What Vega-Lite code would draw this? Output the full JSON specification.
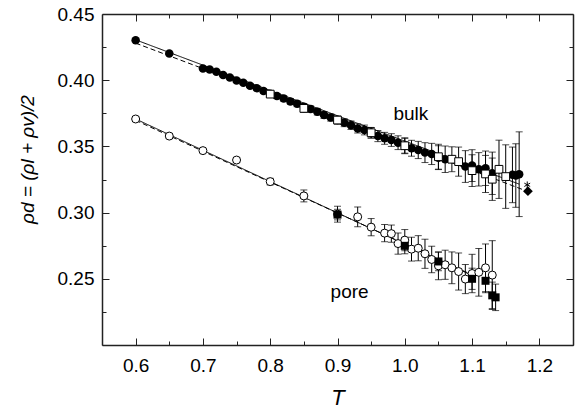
{
  "$schema": "https://vega.github.io/schema/vega-lite/v6.json",
  "width": 471,
  "height": 331,
  "autosize": "none",
  "padding": {"left": 102, "top": 14, "right": 14, "bottom": 69},
  "background": "white",
  "config": {
    "font": "Liberation Sans",
    "view": {"stroke": null},
    "axis": {"grid": false, "domainColor": "#222", "domainWidth": 1.5, "tickColor": "#222", "tickWidth": 1, "labelColor": "black", "titleColor": "black", "labelFont": "Liberation Sans", "titleFont": "Liberation Sans"}
  },
  "datasets": {
    "bulkC": [
      {"T": 0.60, "rho": 0.4302, "err": 0.0006},
      {"T": 0.65, "rho": 0.4202, "err": 0.0006},
      {"T": 0.70, "rho": 0.4089, "err": 0.0008},
      {"T": 0.71, "rho": 0.4081, "err": 0.0008},
      {"T": 0.72, "rho": 0.4063, "err": 0.0008},
      {"T": 0.73, "rho": 0.4040, "err": 0.0009},
      {"T": 0.74, "rho": 0.4021, "err": 0.0009},
      {"T": 0.75, "rho": 0.3998, "err": 0.0010},
      {"T": 0.76, "rho": 0.3980, "err": 0.0012},
      {"T": 0.77, "rho": 0.3958, "err": 0.0013},
      {"T": 0.78, "rho": 0.3940, "err": 0.0015},
      {"T": 0.79, "rho": 0.3918, "err": 0.0016},
      {"T": 0.80, "rho": 0.3898, "err": 0.0018},
      {"T": 0.81, "rho": 0.3880, "err": 0.0019},
      {"T": 0.82, "rho": 0.3862, "err": 0.0020},
      {"T": 0.83, "rho": 0.3840, "err": 0.0021},
      {"T": 0.84, "rho": 0.3822, "err": 0.0022},
      {"T": 0.85, "rho": 0.3800, "err": 0.0023},
      {"T": 0.86, "rho": 0.3782, "err": 0.0024},
      {"T": 0.87, "rho": 0.3762, "err": 0.0025},
      {"T": 0.88, "rho": 0.3737, "err": 0.0026},
      {"T": 0.89, "rho": 0.3718, "err": 0.0027},
      {"T": 0.90, "rho": 0.3699, "err": 0.0028},
      {"T": 0.91, "rho": 0.3679, "err": 0.0030},
      {"T": 0.92, "rho": 0.3660, "err": 0.0032},
      {"T": 0.93, "rho": 0.3636, "err": 0.0035},
      {"T": 0.94, "rho": 0.3624, "err": 0.0037},
      {"T": 0.95, "rho": 0.3603, "err": 0.0040},
      {"T": 0.96, "rho": 0.3578, "err": 0.0042},
      {"T": 0.97, "rho": 0.3561, "err": 0.0045},
      {"T": 0.98, "rho": 0.3548, "err": 0.0048},
      {"T": 0.99, "rho": 0.3528, "err": 0.0052},
      {"T": 1.00, "rho": 0.3505, "err": 0.0056},
      {"T": 1.01, "rho": 0.3486, "err": 0.0060},
      {"T": 1.02, "rho": 0.3473, "err": 0.0065},
      {"T": 1.03, "rho": 0.3453, "err": 0.0075},
      {"T": 1.04, "rho": 0.3443, "err": 0.0080},
      {"T": 1.05, "rho": 0.3415, "err": 0.0090},
      {"T": 1.06, "rho": 0.3403, "err": 0.0100},
      {"T": 1.09, "rho": 0.3348, "err": 0.0120},
      {"T": 1.10, "rho": 0.3355, "err": 0.0120},
      {"T": 1.11, "rho": 0.3327, "err": 0.0126},
      {"T": 1.12, "rho": 0.3335, "err": 0.0130},
      {"T": 1.13, "rho": 0.3297, "err": 0.0160},
      {"T": 1.16, "rho": 0.3285, "err": 0.0210},
      {"T": 1.165, "rho": 0.3280, "err": 0.0240},
      {"T": 1.17, "rho": 0.3290, "err": 0.0320}
    ],
    "bulkS": [
      {"T": 0.80, "rho": 0.3895, "err": 0.0020},
      {"T": 0.85, "rho": 0.3787, "err": 0.0030},
      {"T": 0.90, "rho": 0.3699, "err": 0.0030},
      {"T": 0.95, "rho": 0.3603, "err": 0.0040},
      {"T": 1.00, "rho": 0.3505, "err": 0.0060},
      {"T": 1.05, "rho": 0.3422, "err": 0.0094},
      {"T": 1.07, "rho": 0.3403, "err": 0.0094},
      {"T": 1.08, "rho": 0.3385, "err": 0.0110},
      {"T": 1.10, "rho": 0.3317, "err": 0.0120},
      {"T": 1.12, "rho": 0.3292, "err": 0.0140},
      {"T": 1.13, "rho": 0.3252, "err": 0.0160},
      {"T": 1.14, "rho": 0.3327, "err": 0.0220},
      {"T": 1.15, "rho": 0.3272, "err": 0.0240}
    ],
    "bulkX": [
      {"T": 1.182, "rho": 0.3210, "kind": "star"},
      {"T": 1.183, "rho": 0.3162, "kind": "diamond"}
    ],
    "poreC": [
      {"T": 0.60, "rho": 0.3707, "err": 0.0010},
      {"T": 0.65, "rho": 0.3578, "err": 0.0010},
      {"T": 0.70, "rho": 0.3468, "err": 0.0012},
      {"T": 0.75, "rho": 0.3397, "err": 0.0018},
      {"T": 0.80, "rho": 0.3234, "err": 0.0025},
      {"T": 0.85, "rho": 0.3126, "err": 0.0045},
      {"T": 0.90, "rho": 0.2988, "err": 0.0060},
      {"T": 0.93, "rho": 0.2968, "err": 0.0075},
      {"T": 0.95, "rho": 0.2890, "err": 0.0065},
      {"T": 0.97, "rho": 0.2845, "err": 0.0065},
      {"T": 0.98, "rho": 0.2841, "err": 0.0065},
      {"T": 0.99, "rho": 0.2766, "err": 0.0080},
      {"T": 1.00, "rho": 0.2792, "err": 0.0080},
      {"T": 1.01, "rho": 0.2724, "err": 0.0090},
      {"T": 1.02, "rho": 0.2731, "err": 0.0095},
      {"T": 1.03, "rho": 0.2689, "err": 0.0110},
      {"T": 1.04, "rho": 0.2646, "err": 0.0100},
      {"T": 1.05, "rho": 0.2598, "err": 0.0105},
      {"T": 1.06, "rho": 0.2606, "err": 0.0110},
      {"T": 1.07, "rho": 0.2583, "err": 0.0120},
      {"T": 1.08, "rho": 0.2555, "err": 0.0140},
      {"T": 1.09, "rho": 0.2498, "err": 0.0110},
      {"T": 1.10, "rho": 0.2540, "err": 0.0145},
      {"T": 1.11, "rho": 0.2549, "err": 0.0180},
      {"T": 1.12, "rho": 0.2583, "err": 0.0180},
      {"T": 1.13, "rho": 0.2528, "err": 0.0260}
    ],
    "poreS": [
      {"T": 0.90, "rho": 0.2985, "err": 0.0040},
      {"T": 1.00, "rho": 0.2749, "err": 0.0060},
      {"T": 1.05, "rho": 0.2631, "err": 0.0070},
      {"T": 1.10, "rho": 0.2500, "err": 0.0080},
      {"T": 1.12, "rho": 0.2485, "err": 0.0090},
      {"T": 1.13, "rho": 0.2375, "err": 0.0100},
      {"T": 1.135, "rho": 0.2360, "err": 0.0100}
    ],
    "fits": [
      {"fit": "bulk solid", "style": "solid", "T": 0.60, "rho": 0.4305},
      {"fit": "bulk solid", "style": "solid", "T": 1.17, "rho": 0.3215},
      {"fit": "bulk dashed", "style": "dashed", "T": 0.60, "rho": 0.4280},
      {"fit": "bulk dashed", "style": "dashed", "T": 1.18, "rho": 0.3165},
      {"fit": "pore solid", "style": "solid", "T": 0.60, "rho": 0.3707},
      {"fit": "pore solid", "style": "solid", "T": 1.10, "rho": 0.2525},
      {"fit": "pore dashed", "style": "dashed", "T": 0.60, "rho": 0.3697},
      {"fit": "pore dashed", "style": "dashed", "T": 1.10, "rho": 0.2530}
    ],
    "notes": [
      {"T": 1.009, "rho": 0.3744, "text": "bulk"},
      {"T": 0.918, "rho": 0.2402, "text": "pore"}
    ]
  },
  "resolve": {"axis": {"x": "independent", "y": "independent"}},
  "layer": [
    {
      "data": {"name": "fits"},
      "mark": {"type": "line", "color": "black", "strokeWidth": 1},
      "encoding": {
        "x": {"field": "T", "type": "quantitative", "scale": {"domain": [0.55, 1.25], "nice": false, "zero": false}, "axis": null},
        "y": {"field": "rho", "type": "quantitative", "scale": {"domain": [0.2, 0.45], "nice": false, "zero": false}, "axis": null},
        "detail": {"field": "fit"},
        "strokeDash": {"field": "style", "type": "nominal", "scale": {"domain": ["solid", "dashed"], "range": [[1, 0], [5, 3]]}, "legend": null}
      }
    },
    {
      "data": {"name": "bulkC"},
      "mark": {"type": "errorbar", "ticks": true, "size": 7, "thickness": 1, "color": "black"},
      "encoding": {
        "x": {"field": "T", "type": "quantitative", "scale": {"domain": [0.55, 1.25], "nice": false, "zero": false}, "axis": null},
        "y": {"field": "rho", "type": "quantitative", "scale": {"domain": [0.2, 0.45], "nice": false, "zero": false}, "axis": null},
        "yError": {"field": "err"}
      }
    },
    {
      "data": {"name": "bulkS"},
      "mark": {"type": "errorbar", "ticks": true, "size": 7, "thickness": 1, "color": "black"},
      "encoding": {
        "x": {"field": "T", "type": "quantitative", "scale": {"domain": [0.55, 1.25], "nice": false, "zero": false}, "axis": null},
        "y": {"field": "rho", "type": "quantitative", "scale": {"domain": [0.2, 0.45], "nice": false, "zero": false}, "axis": null},
        "yError": {"field": "err"}
      }
    },
    {
      "data": {"name": "poreC"},
      "mark": {"type": "errorbar", "ticks": true, "size": 7, "thickness": 1, "color": "black"},
      "encoding": {
        "x": {"field": "T", "type": "quantitative", "scale": {"domain": [0.55, 1.25], "nice": false, "zero": false}, "axis": null},
        "y": {"field": "rho", "type": "quantitative", "scale": {"domain": [0.2, 0.45], "nice": false, "zero": false}, "axis": null},
        "yError": {"field": "err"}
      }
    },
    {
      "data": {"name": "poreS"},
      "mark": {"type": "errorbar", "ticks": true, "size": 7, "thickness": 1, "color": "black"},
      "encoding": {
        "x": {"field": "T", "type": "quantitative", "scale": {"domain": [0.55, 1.25], "nice": false, "zero": false}, "axis": null},
        "y": {"field": "rho", "type": "quantitative", "scale": {"domain": [0.2, 0.45], "nice": false, "zero": false}, "axis": null},
        "yError": {"field": "err"}
      }
    },
    {
      "data": {"name": "bulkC"},
      "mark": {"type": "point", "shape": "circle", "filled": true, "color": "black", "size": 72, "opacity": 1},
      "encoding": {
        "x": {"field": "T", "type": "quantitative", "scale": {"domain": [0.55, 1.25], "nice": false, "zero": false},
          "axis": {"orient": "bottom", "values": [0.6, 0.7, 0.8, 0.9, 1.0, 1.1, 1.2], "format": ".1f", "tickSize": -7, "labelPadding": 18, "labelFontSize": 19, "title": "T", "titleFontSize": 22, "titleFontStyle": "italic", "titleFontWeight": "normal", "titlePadding": 12}},
        "y": {"field": "rho", "type": "quantitative", "scale": {"domain": [0.2, 0.45], "nice": false, "zero": false},
          "axis": {"orient": "left", "values": [0.25, 0.3, 0.35, 0.4, 0.45], "format": ".2f", "tickSize": -7, "labelPadding": 15, "labelFontSize": 19, "title": "ρd = (ρl + ρv)/2", "titleFontSize": 19, "titleFontStyle": "italic", "titleFontWeight": "normal", "titleX": -75, "titleY": 145, "titleAngle": -90, "titleAlign": "center", "titleBaseline": "middle"}}
      }
    },
    {
      "data": {"name": "bulkS"},
      "mark": {"type": "point", "shape": "square", "filled": true, "fill": "white", "stroke": "black", "strokeWidth": 1, "size": 60, "opacity": 1},
      "encoding": {
        "x": {"field": "T", "type": "quantitative", "scale": {"domain": [0.55, 1.25], "nice": false, "zero": false},
          "axis": {"orient": "bottom", "values": [0.55, 0.65, 0.75, 0.85, 0.95, 1.05, 1.15, 1.25], "tickSize": -4, "labels": false, "domain": false, "title": null}},
        "y": {"field": "rho", "type": "quantitative", "scale": {"domain": [0.2, 0.45], "nice": false, "zero": false},
          "axis": {"orient": "left", "values": [0.225, 0.275, 0.325, 0.375, 0.425], "tickSize": -4, "labels": false, "domain": false, "title": null}}
      }
    },
    {
      "data": {"name": "bulkX"},
      "transform": [{"filter": "datum.kind === 'diamond'"}],
      "mark": {"type": "point", "shape": "diamond", "filled": true, "color": "black", "size": 95, "opacity": 1},
      "encoding": {
        "x": {"field": "T", "type": "quantitative", "scale": {"domain": [0.55, 1.25], "nice": false, "zero": false}, "axis": null},
        "y": {"field": "rho", "type": "quantitative", "scale": {"domain": [0.2, 0.45], "nice": false, "zero": false}, "axis": null}
      }
    },
    {
      "data": {"name": "bulkX"},
      "transform": [{"filter": "datum.kind === 'star'"}],
      "mark": {"type": "point", "shape": "M0,-1L0,1M-0.87,-0.5L0.87,0.5M-0.87,0.5L0.87,-0.5", "filled": false, "stroke": "black", "strokeWidth": 1, "size": 45, "opacity": 1},
      "encoding": {
        "x": {"field": "T", "type": "quantitative", "scale": {"domain": [0.55, 1.25], "nice": false, "zero": false}, "axis": null},
        "y": {"field": "rho", "type": "quantitative", "scale": {"domain": [0.2, 0.45], "nice": false, "zero": false}, "axis": null}
      }
    },
    {
      "data": {"name": "poreC"},
      "mark": {"type": "point", "shape": "circle", "filled": true, "fill": "white", "stroke": "black", "strokeWidth": 1, "size": 64, "opacity": 1},
      "encoding": {
        "x": {"field": "T", "type": "quantitative", "scale": {"domain": [0.55, 1.25], "nice": false, "zero": false},
          "axis": {"orient": "top", "values": [0.6, 0.7, 0.8, 0.9, 1.0, 1.1, 1.2], "tickSize": -7, "labels": false, "title": null}},
        "y": {"field": "rho", "type": "quantitative", "scale": {"domain": [0.2, 0.45], "nice": false, "zero": false},
          "axis": {"orient": "right", "values": [0.2, 0.25, 0.3, 0.35, 0.4, 0.45], "tickSize": -7, "labels": false, "title": null}}
      }
    },
    {
      "data": {"name": "poreS"},
      "mark": {"type": "point", "shape": "square", "filled": true, "color": "black", "size": 64, "opacity": 1},
      "encoding": {
        "x": {"field": "T", "type": "quantitative", "scale": {"domain": [0.55, 1.25], "nice": false, "zero": false},
          "axis": {"orient": "top", "values": [0.65, 0.75, 0.85, 0.95, 1.05, 1.15], "tickSize": -4, "labels": false, "domain": false, "title": null}},
        "y": {"field": "rho", "type": "quantitative", "scale": {"domain": [0.2, 0.45], "nice": false, "zero": false},
          "axis": {"orient": "right", "values": [0.225, 0.275, 0.325, 0.375, 0.425], "tickSize": -4, "labels": false, "domain": false, "title": null}}
      }
    },
    {
      "data": {"name": "notes"},
      "mark": {"type": "text", "fontSize": 19, "color": "black", "align": "center", "baseline": "middle"},
      "encoding": {
        "x": {"field": "T", "type": "quantitative", "scale": {"domain": [0.55, 1.25], "nice": false, "zero": false}, "axis": null},
        "y": {"field": "rho", "type": "quantitative", "scale": {"domain": [0.2, 0.45], "nice": false, "zero": false}, "axis": null},
        "text": {"field": "text"}
      }
    }
  ]
}
